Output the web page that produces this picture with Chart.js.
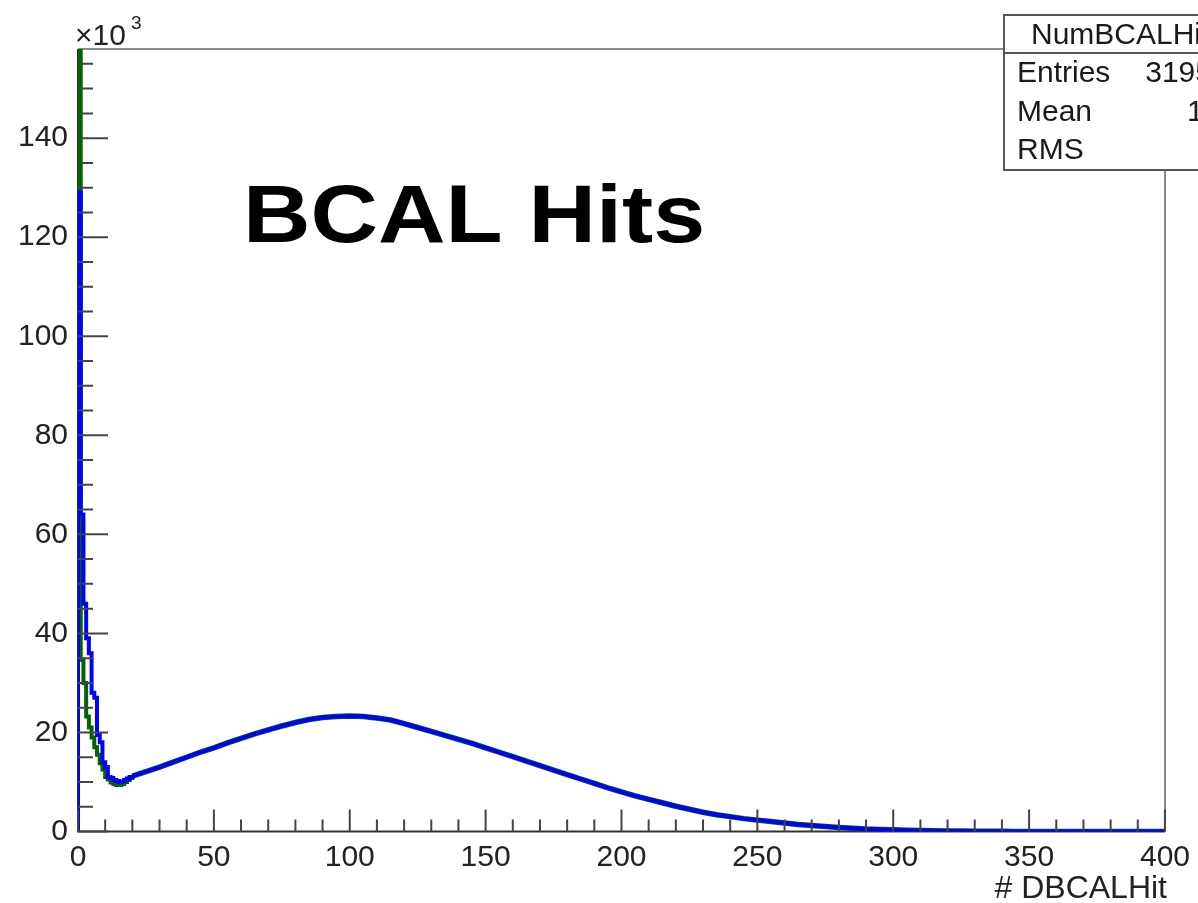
<!DOCTYPE html>
<html>
<head>
<meta charset="utf-8">
<script src="https://cdn.jsdelivr.net/npm/chart.js@4"></script>
<style>
  body { margin: 0; background: #fff; }
  canvas { display: block; }
</style>
</head>
<body>
<canvas id="myChart" width="1198" height="903"></canvas>
<script>
// low bins (width 1) near the spike, in thousands
var lowEdges = [0, 1, 2, 3, 4, 5, 6, 7, 8, 9, 10, 11, 12, 13, 14, 15, 16, 17, 18, 19, 20];
var greenLow = [175, 34.7, 30, 23.2, 21, 19, 17, 15.5, 13.8, 12.5, 11, 10.5, 9.9, 9.6, 9.4, 9.4, 9.6, 10, 10.4, 10.8, 11.1];
var blueLow = [129, 64, 46, 39, 36, 28, 27, 19.5, 18, 14, 13, 11, 10.8, 10.4, 10.2, 10, 10.1, 10.4, 10.7, 11, 11.2];

// the broad bump, sampled every 5 hits
var tailX = [20, 25, 30, 35, 40, 45, 50, 55, 60, 65, 70, 75, 80, 85, 90, 95, 100, 105, 110, 115, 120, 125, 130, 135, 140, 145, 150, 155, 160, 165, 170, 175, 180, 185, 190, 195, 200, 205, 210, 215, 220, 225, 230, 235, 240, 245, 250, 255, 260, 265, 270, 275, 280, 285, 290, 295, 300, 305, 310, 315, 320, 325, 330, 335, 340, 345, 350, 355, 360, 365, 370, 375, 380, 385, 390, 395, 400];
var tailCounts = [11.2, 12.1, 13.0, 14.0, 15.0, 16.0, 16.9, 17.9, 18.8, 19.7, 20.5, 21.3, 22.0, 22.6, 23.0, 23.2, 23.3, 23.2, 22.9, 22.5, 21.8, 21.0, 20.2, 19.4, 18.6, 17.8, 16.9, 16.0, 15.1, 14.2, 13.3, 12.4, 11.5, 10.6, 9.7, 8.8, 8.0, 7.2, 6.5, 5.8, 5.1, 4.5, 3.9, 3.4, 3.0, 2.6, 2.3, 2.0, 1.7, 1.4, 1.2, 1.0, 0.8, 0.65, 0.5, 0.42, 0.35, 0.27, 0.2, 0.15, 0.1, 0.08, 0.05, 0.04, 0.03, 0.02, 0.02, 0.01, 0.01, 0.01, 0.01, 0, 0, 0, 0, 0, 0];

var xTicks = [0, 50, 100, 150, 200, 250, 300, 350, 400];
var yTicks = [0, 20, 40, 60, 80, 100, 120, 140];

var GREEN = 'rgb(0,100,0)';
var BLUE = 'rgb(0,0,255)';
var FONT = '"Liberation Sans", Arial, Helvetica, sans-serif';

function toPoints(xs, ys) {
    var pts = [];
    for (var i = 0; i < xs.length; i++) {
        pts.push({ x: xs[i], y: ys[i] });
    }
    return pts;
}

// histogram outline starts from zero at the left edge
function histPoints(xs, ys) {
    return [{ x: xs[0], y: 0 }].concat(toPoints(xs, ys));
}

// frame under the data
var rootFrame = {
    id: 'rootFrame',
    beforeDatasetsDraw: function(chart) {
        var ctx = chart.ctx;
        var a = chart.chartArea;
        ctx.save();
        ctx.lineWidth = 2;
        ctx.strokeStyle = '#8a8a8a';
        ctx.beginPath();
        ctx.moveTo(a.left, a.top);
        ctx.lineTo(a.right, a.top);
        ctx.lineTo(a.right, a.bottom);
        ctx.stroke();
        ctx.strokeStyle = '#333';
        ctx.beginPath();
        ctx.moveTo(a.left, a.top);
        ctx.lineTo(a.left, a.bottom);
        ctx.lineTo(a.right, a.bottom);
        ctx.stroke();
        ctx.restore();
    }
};

// inward ticks, title, stats box on top
var rootStyle = {
    id: 'rootStyle',
    afterDatasetsDraw: function(chart) {
        var ctx = chart.ctx;
        var a = chart.chartArea;
        var xs = chart.scales.x;
        var ys = chart.scales.y;
        ctx.save();

        ctx.lineWidth = 2;
        ctx.strokeStyle = '#444';
        ctx.beginPath();
        // x ticks every 10, major every 50
        for (var v = 0; v <= 400; v += 10) {
            var px = xs.getPixelForValue(v);
            var len = (v % 50 === 0) ? 22 : 12;
            ctx.moveTo(px, a.bottom);
            ctx.lineTo(px, a.bottom - len);
        }
        // y ticks every 5, major every 20
        for (var w = 0; w <= 155; w += 5) {
            var py = ys.getPixelForValue(w);
            var l2 = (w % 20 === 0) ? 30 : 15;
            ctx.moveTo(a.left, py);
            ctx.lineTo(a.left + l2, py);
        }
        ctx.stroke();

        // exponent
        ctx.fillStyle = '#222';
        ctx.textAlign = 'left';
        ctx.textBaseline = 'alphabetic';
        ctx.font = '30px ' + FONT;
        ctx.fillText('\u00d710', 75, 45);
        ctx.font = '19px ' + FONT;
        ctx.fillText('3', 131, 29);

        // axis title
        ctx.font = '32px ' + FONT;
        ctx.textAlign = 'right';
        ctx.fillText('# DBCALHit', 1167, 898);

        // big label
        ctx.save();
        ctx.translate(243, 242);
        ctx.scale(1.14, 1);
        ctx.fillStyle = '#000';
        ctx.textAlign = 'left';
        ctx.font = 'bold 82px ' + FONT;
        ctx.fillText('BCAL Hits', 0, 0);
        ctx.restore();

        // stats box (runs off the right edge)
        ctx.fillStyle = '#fff';
        ctx.fillRect(1004, 15, 300, 155);
        ctx.strokeStyle = '#555';
        ctx.lineWidth = 2;
        ctx.strokeRect(1004, 15, 300, 155);
        ctx.beginPath();
        ctx.moveTo(1004, 53);
        ctx.lineTo(1304, 53);
        ctx.stroke();
        ctx.fillStyle = '#1a1a1a';
        ctx.font = '30px ' + FONT;
        ctx.textBaseline = 'middle';
        ctx.textAlign = 'left';
        ctx.fillText('NumBCALHits', 1031, 36);
        ctx.fillText('Entries', 1017, 74);
        ctx.fillText('Mean', 1017, 113);
        ctx.fillText('RMS', 1017, 151);
        ctx.textAlign = 'right';
        ctx.fillText('3195764', 1262, 74);
        ctx.fillText('109.6', 1262, 113);
        ctx.fillText('56.9', 1262, 151);

        ctx.restore();
    }
};

var ctx = document.getElementById('myChart').getContext('2d');
// Chart.js paints the first dataset last, so blue goes first
var chart = new Chart(ctx, {
    type: 'line',
    data: {
        datasets: [
            { data: histPoints(lowEdges, blueLow), borderColor: BLUE, borderWidth: 4, stepped: 'before', pointRadius: 0, fill: false },
            { data: toPoints(tailX, tailCounts), borderColor: BLUE, borderWidth: 4, pointRadius: 0, fill: false, tension: 0 },
            { data: histPoints(lowEdges, greenLow), borderColor: GREEN, borderWidth: 4, stepped: 'before', pointRadius: 0, fill: false },
            { data: toPoints(tailX, tailCounts), borderColor: GREEN, borderWidth: 5.5, pointRadius: 0, fill: false, tension: 0 }
        ]
    },
    options: {
        responsive: false,
        animation: false,
        layout: { padding: { top: 49, right: 30, left: 0, bottom: 0 } },
        plugins: { legend: { display: false }, tooltip: { enabled: false } },
        scales: {
            x: {
                type: 'linear',
                min: 0,
                max: 400,
                afterFit: function(scale) { scale.height = 71.5; },
                afterBuildTicks: function(scale) {
                    scale.ticks = xTicks.map(function(v) { return { value: v }; });
                },
                grid: { display: false, drawTicks: false },
                border: { display: false },
                ticks: { color: '#222', font: { family: FONT, size: 30 }, padding: 8, maxRotation: 0 }
            },
            y: {
                type: 'linear',
                min: 0,
                max: 158,
                afterFit: function(scale) { scale.width = 78; },
                afterBuildTicks: function(scale) {
                    scale.ticks = yTicks.map(function(v) { return { value: v }; });
                },
                grid: { display: false, drawTicks: false },
                border: { display: false },
                ticks: { color: '#222', font: { family: FONT, size: 30 }, padding: 10 }
            }
        }
    },
    plugins: [rootFrame, rootStyle]
});
</script>
</body>
</html>
